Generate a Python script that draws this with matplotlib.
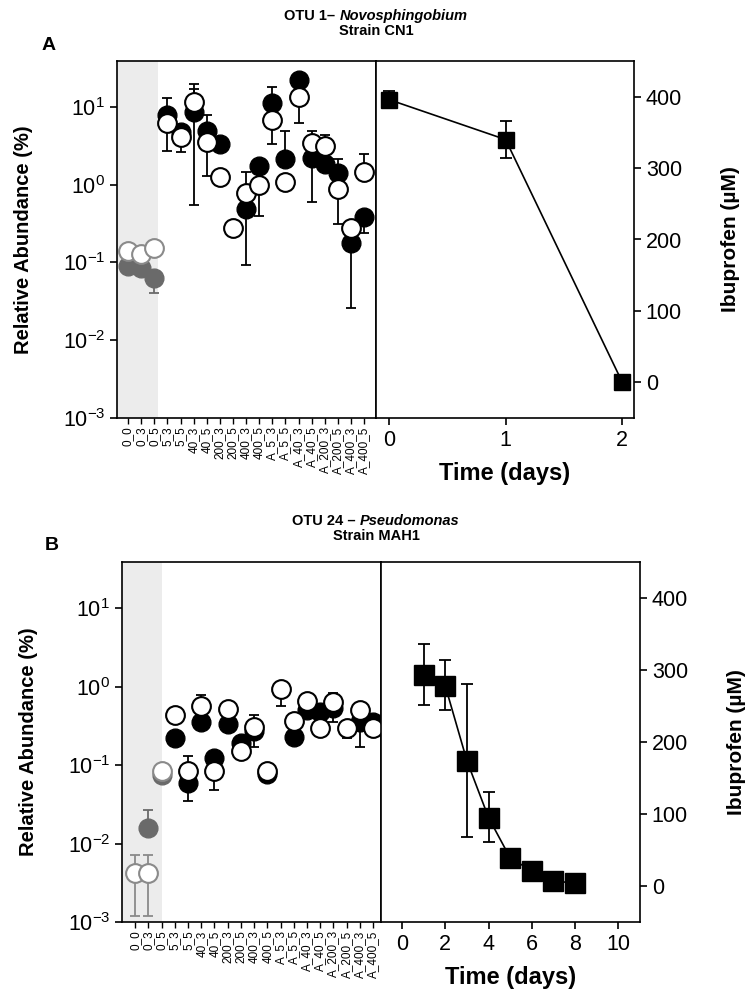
import numpy as np
import matplotlib
matplotlib.use("Agg")
import matplotlib.pyplot as plt

plt.rcParams['font.family'] = ['Liberation Sans', 'DejaVu Sans']
plt.rcParams['mathtext.fontset'] = 'custom'
plt.rcParams['mathtext.rm'] = 'Liberation Sans'
plt.rcParams['mathtext.it'] = 'Liberation Sans:italic'
plt.rcParams['mathtext.bf'] = 'Liberation Sans:bold'

nan = np.nan

samples = ['0_0', '0_3', '0_5', '5_3', '5_5', '40_3', '40_5', '200_3', '200_5',
           '400_3', '400_5', 'A_5_3', 'A_5_5', 'A_40_3', 'A_40_5', 'A_200_3',
           'A_200_5', 'A_400_3', 'A_400_5']

# panel A (OTU 1) relative abundance, filled = replicate 1, open = replicate 2
a_filled = [0.09, 0.086, 0.064, 7.9, 4.8, 8.6, 4.9, 3.3, nan, 0.48, 1.75, 11.3, 2.15, 22, 2.2, 1.85, 1.42, 0.18, 0.38]
a_filled_hi = [nan, nan, nan, 13, nan, 17, 7.9, nan, nan, nan, nan, 18, 4.9, nan, nan, nan, 2.15, nan, nan]
a_filled_lo = [nan, nan, 0.041, nan, nan, 0.54, nan, nan, nan, 0.094, nan, nan, nan, nan, 0.6, nan, nan, 0.026, 0.24]
a_open = [0.14, 0.13, 0.155, 6.2, 4.1, 11.6, 3.5, 1.27, 0.28, 0.79, 1.0, 6.8, 1.09, 13.4, 3.4, 3.1, 0.89, 0.28, 1.47]
a_open_hi = [nan, nan, nan, nan, nan, 19.6, nan, nan, nan, 1.47, nan, nan, nan, nan, 4.9, 4.4, nan, nan, 2.5]
a_open_lo = [nan, nan, nan, 2.7, 2.6, nan, 1.3, nan, nan, nan, 0.39, 3.3, nan, 6.2, nan, nan, 0.31, nan, nan]

# panel B (OTU 24)
b_filled = [nan, 0.016, 0.075, 0.22, 0.06, 0.35, 0.125, 0.33, 0.19, 0.27, 0.078, nan, 0.23, 0.51, 0.48, 0.54, nan, 0.35, 0.35]
b_filled_hi = [nan, 0.027, nan, nan, nan, nan, nan, nan, nan, nan, nan, nan, nan, nan, nan, nan, nan, nan, nan]
b_filled_lo = [nan, nan, nan, nan, 0.035, nan, nan, nan, nan, 0.17, nan, nan, nan, nan, nan, 0.36, nan, 0.17, nan]
b_open = [0.0042, 0.0042, 0.083, 0.43, 0.083, 0.56, 0.083, 0.52, 0.15, 0.31, 0.085, 0.94, 0.37, 0.65, 0.30, 0.63, 0.30, 0.51, 0.30]
b_open_hi = [0.0071, 0.0071, nan, nan, 0.13, 0.79, nan, nan, nan, 0.43, nan, nan, nan, nan, nan, 0.83, nan, nan, nan]
b_open_lo = [0.0012, 0.0012, nan, nan, nan, nan, 0.048, nan, nan, nan, nan, 0.56, nan, nan, nan, nan, 0.22, nan, nan]

# ibuprofen concentration
a_days = [0, 1, 2]
a_ibu = [396, 340, 0]
a_ibu_err = [12, 26, 0]

b_days = [1, 2, 3, 4, 5, 6, 7, 8]
b_ibu = [293, 278, 174, 95, 39, 21, 7, 4]
b_ibu_err_lo = [41, 34, 106, 34, 0, 0, 0, 0]
b_ibu_err_hi = [43, 36, 107, 35, 0, 0, 0, 0]

W, H = 750, 1007
fig = plt.figure(figsize=(W / 100, H / 100), dpi=100)


def box(x0, x1, y0, y1):
    return [x0 / W, 1 - y1 / H, (x1 - x0) / W, (y1 - y0) / H]


def errs(vals, lo, hi):
    v = np.array(vals, float)
    lo = np.array(lo, float)
    hi = np.array(hi, float)
    down = np.where(np.isnan(lo), 0, v - lo)
    up = np.where(np.isnan(hi), 0, hi - v)
    return down, up


def abundance(ax, filled, f_lo, f_hi, opn, o_lo, o_hi, xlim, shade):
    x = np.arange(len(samples))
    ax.axvspan(xlim[0], shade, color='#ececec', lw=0, zorder=0)
    fd, fu = errs(filled, f_lo, f_hi)
    od, ou = errs(opn, o_lo, o_hi)
    for i in x:
        col = '#6a6a6a' if i < 3 else 'black'
        ocol = '#8a8a8a' if i < 3 else 'black'
        ax.errorbar(i, filled[i], yerr=[[fd[i]], [fu[i]]], fmt='none', ecolor=col,
                    elinewidth=1.3, capsize=3.5, capthick=1.3, zorder=2)
        ax.plot(i, filled[i], 'o', ms=13.5, mfc=col, mec=col, zorder=3)
        ax.errorbar(i, opn[i], yerr=[[od[i]], [ou[i]]], fmt='none', ecolor=ocol,
                    elinewidth=1.3, capsize=3.5, capthick=1.3, zorder=4)
        ax.plot(i, opn[i], 'o', ms=13.5, mfc='white', mec=ocol, mew=1.5, zorder=5)
    ax.set_yscale('log')
    ax.set_ylim(1e-3, 10 ** 1.59)
    ax.set_xlim(*xlim)
    ax.set_xticks(x)
    ax.set_xticklabels(samples, rotation=90, fontsize=8.5)
    ax.set_yticks([1e-3, 1e-2, 1e-1, 1, 10])
    ax.minorticks_off()
    ax.tick_params(axis='y', labelsize=15.5, direction='out', length=5, width=1.2)
    ax.tick_params(axis='x', direction='out', length=4, width=1, pad=2)
    ax.set_ylabel('Relative Abundance (%)', fontsize=14.5, fontweight='bold', labelpad=21)
    for s in ax.spines.values():
        s.set_linewidth(1.2)


def ibuprofen(ax, days, vals, err, xlim, xticks, ms):
    ax.errorbar(days, vals, yerr=err, fmt='none', ecolor='black', elinewidth=1.3,
                capsize=4, capthick=1.3, zorder=2)
    ax.plot(days, vals, '-', color='black', lw=1.2, zorder=3)
    ax.plot(days, vals, 's', ms=ms, color='black', zorder=4)
    ax.set_xlim(*xlim)
    ax.set_ylim(-50, 450)
    ax.set_xticks(xticks)
    ax.set_yticks([0, 100, 200, 300, 400])
    ax.yaxis.tick_right()
    ax.yaxis.set_label_position('right')
    ax.tick_params(labelsize=15.5, direction='out', length=5, width=1.2)
    ax.set_ylabel('Ibuprofen (µM)', fontsize=15, fontweight='bold', labelpad=28)
    ax.set_xlabel('Time (days)', fontsize=17, fontweight='bold', labelpad=8)
    for s in ax.spines.values():
        s.set_linewidth(1.2)


def title(y, otu, genus, strain):
    r = fig.canvas.get_renderer()
    t1 = fig.text(0, 0, otu, fontsize=10.5, fontweight='bold')
    t2 = fig.text(0, 0, genus, fontsize=10.5, fontweight='bold', fontstyle='italic')
    w1 = t1.get_window_extent(r).width
    w2 = t2.get_window_extent(r).width
    x0 = 376 - (w1 + w2) / 2
    t1.set_position((x0 / W, 1 - y / H))
    t2.set_position(((x0 + w1) / W, 1 - y / H))
    t1.set_va('center')
    t2.set_va('center')
    fig.text(376 / W, 1 - (y + 15) / H, strain, fontsize=10.5, fontweight='bold',
             ha='center', va='center')


# panel A
axA = fig.add_axes(box(117, 376, 61, 418))
abundance(axA, a_filled, a_filled_lo, a_filled_hi, a_open, a_open_lo, a_open_hi,
          (-0.84, 18.9), 2.3)
axA2 = fig.add_axes(box(376, 634, 61, 418))
ibuprofen(axA2, a_days, a_ibu, a_ibu_err, (-0.11, 2.1), [0, 1, 2], 11.5)

# panel B
axB = fig.add_axes(box(122, 381, 562, 922))
abundance(axB, b_filled, b_filled_lo, b_filled_hi, b_open, b_open_lo, b_open_hi,
          (-1.0, 18.6), 2.05)
axB2 = fig.add_axes(box(381, 640, 562, 922))
ibuprofen(axB2, b_days, b_ibu, [b_ibu_err_lo, b_ibu_err_hi], (-0.97, 11.0),
          [0, 2, 4, 6, 8, 10], 14.5)

title(16, 'OTU 1– ', 'Novosphingobium', 'Strain CN1')
title(521, 'OTU 24 – ', 'Pseudomonas', 'Strain MAH1')

fig.text(42 / W, 1 - 45 / H, 'A', fontsize=14, fontweight='bold', ha='left', va='center')
fig.text(45 / W, 1 - 545 / H, 'B', fontsize=14, fontweight='bold', ha='left', va='center')

fig.savefig('out.png', dpi=100)
